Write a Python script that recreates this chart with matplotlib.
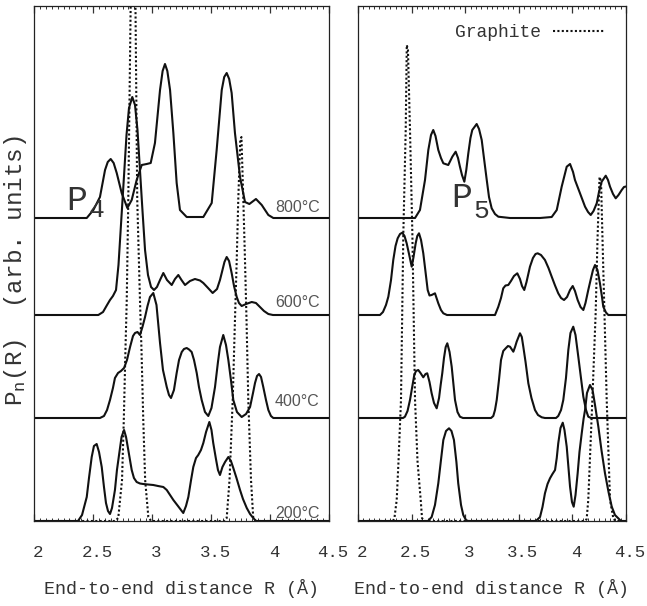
import matplotlib
matplotlib.use("Agg")
import matplotlib.pyplot as plt
from matplotlib.ticker import MultipleLocator, FixedLocator
from matplotlib.transforms import ScaledTranslation
from matplotlib.lines import Line2D
import numpy as np

plt.rcParams['mathtext.fontset'] = 'custom'
plt.rcParams['mathtext.rm'] = 'Liberation Mono'
plt.rcParams['mathtext.it'] = 'Liberation Mono'

# ---------------- data ----------------
temps = ['200°C', '400°C', '600°C', '800°C']
offsets = [0.0, 1.03, 2.06, 3.03]
xticks = [2, 2.5, 3, 3.5, 4, 4.5]
xticklabels = ['2', '2.5', '3', '3.5', '4', '4.5']

# P4 panel
p4_800_R = [2.00, 2.447, 2.503, 2.559, 2.602, 2.625, 2.650, 2.675, 2.701, 2.743, 2.791, 2.828, 2.870, 2.913, 2.955,
            2.989, 3.025, 3.068, 3.090, 3.110, 3.130, 3.153, 3.181, 3.209, 3.237, 3.294, 3.435, 3.506, 3.548, 3.591,
            3.612, 3.633, 3.654, 3.675, 3.703, 3.746, 3.788, 3.825, 3.881, 3.930, 3.986, 4.028, 4.50]
p4_800_h = [0, 0, 0.08, 0.21, 0.48, 0.56, 0.59, 0.55, 0.45, 0.25, 0.10, 0.18, 0.38, 0.53, 0.54,
            0.55, 0.75, 1.28, 1.47, 1.54, 1.47, 1.28, 0.85, 0.35, 0.08, 0.01, 0.01, 0.15, 0.68, 1.28,
            1.41, 1.45, 1.39, 1.25, 0.85, 0.41, 0.16, 0.14, 0.19, 0.13, 0.03, 0, 0]

p4_600_R = [2.0, 2.545, 2.585, 2.619, 2.644, 2.669, 2.695, 2.716, 2.737, 2.758, 2.784, 2.805, 2.833, 2.856, 2.877,
            2.898, 2.919, 2.941, 2.966, 2.992, 3.017, 3.042, 3.068, 3.096, 3.127, 3.167, 3.195, 3.223, 3.250, 3.280,
            3.322, 3.364, 3.407, 3.435, 3.475, 3.514, 3.551, 3.576, 3.593, 3.614, 3.633, 3.653, 3.675, 3.695, 3.718,
            3.737, 3.760, 3.797, 3.845, 3.881, 3.915, 3.949, 3.986, 4.025, 4.5]
p4_600_h = [0, 0, 0.03, 0.10, 0.15, 0.19, 0.25, 0.50, 0.90, 1.30, 1.80, 2.07, 2.18, 2.10, 1.85,
            1.45, 1.05, 0.65, 0.40, 0.28, 0.25, 0.28, 0.35, 0.42, 0.35, 0.30, 0.36, 0.40, 0.35, 0.30,
            0.34, 0.36, 0.345, 0.32, 0.27, 0.22, 0.26, 0.35, 0.43, 0.53, 0.58, 0.54, 0.42, 0.29, 0.18,
            0.12, 0.09, 0.11, 0.13, 0.12, 0.08, 0.04, 0.01, 0, 0]

p4_400_R = [2.0, 2.559, 2.593, 2.619, 2.644, 2.669, 2.686, 2.712, 2.737, 2.763, 2.788, 2.814, 2.839, 2.856, 2.877,
            2.898, 2.919, 2.941, 2.962, 2.983, 3.011, 3.038, 3.068, 3.093, 3.125, 3.144, 3.161, 3.186, 3.209, 3.229,
            3.252, 3.271, 3.294, 3.314, 3.336, 3.356, 3.379, 3.398, 3.421, 3.449, 3.477, 3.504, 3.534, 3.559, 3.576,
            3.604, 3.627, 3.647, 3.669, 3.689, 3.720, 3.760, 3.797, 3.831, 3.856, 3.873, 3.890, 3.907, 3.924, 3.943,
            3.966, 3.986, 4.008, 4.028, 4.5]
p4_400_h = [0, 0, 0.02, 0.08, 0.18, 0.30, 0.40, 0.45, 0.47, 0.50, 0.58, 0.71, 0.82, 0.85, 0.86,
            0.83, 0.91, 1.01, 1.12, 1.21, 1.25, 1.13, 0.75, 0.48, 0.31, 0.23, 0.20, 0.28, 0.45, 0.58,
            0.66, 0.69, 0.70, 0.685, 0.66, 0.58, 0.45, 0.31, 0.18, 0.06, 0.02, 0.10, 0.31, 0.56, 0.71,
            0.83, 0.73, 0.58, 0.38, 0.18, 0.06, 0.01, 0.04, 0.11, 0.25, 0.35, 0.42, 0.44, 0.41, 0.31,
            0.18, 0.08, 0.02, 0, 0]

p4_200_R = [2.0, 2.373, 2.407, 2.447, 2.466, 2.489, 2.508, 2.531, 2.551, 2.574, 2.593, 2.610, 2.627, 2.644, 2.661,
            2.686, 2.703, 2.723, 2.742, 2.763, 2.780, 2.799, 2.828, 2.847, 2.870, 2.898, 2.926, 2.966, 3.011, 3.051,
            3.096, 3.125, 3.153, 3.181, 3.220, 3.265, 3.288, 3.308, 3.331, 3.350, 3.373, 3.392, 3.415, 3.435, 3.458,
            3.486, 3.504, 3.519, 3.542, 3.559, 3.576, 3.597, 3.619, 3.647, 3.669, 3.689, 3.716, 3.746, 3.771, 3.803,
            3.831, 3.858, 3.881, 4.5]
p4_200_h = [0, 0, 0.06, 0.24, 0.43, 0.64, 0.75, 0.77, 0.69, 0.54, 0.34, 0.18, 0.10, 0.07, 0.13,
            0.31, 0.51, 0.68, 0.84, 0.91, 0.84, 0.71, 0.51, 0.43, 0.39, 0.375, 0.37, 0.365, 0.36, 0.35,
            0.34, 0.31, 0.26, 0.21, 0.15, 0.08, 0.15, 0.24, 0.41, 0.54, 0.63, 0.66, 0.71, 0.78, 0.89,
            0.99, 0.91, 0.78, 0.62, 0.51, 0.46, 0.54, 0.59, 0.64, 0.60, 0.53, 0.43, 0.31, 0.22, 0.13,
            0.07, 0.03, 0, 0]

p4_graphite_R = [2.0, 2.686, 2.714, 2.746, 2.761, 2.775, 2.786, 2.799, 2.819, 2.842, 2.860, 2.875, 2.898, 2.911,
                 2.926, 2.942, 2.969, 2.992, 3.610, 3.633, 3.657, 3.684, 3.703, 3.718, 3.731, 3.748, 3.758, 3.774,
                 3.788, 3.801, 3.816, 3.839, 3.858, 3.881, 4.5]
p4_graphite_h = [0, 0, 0.03, 0.41, 1.01, 1.71, 2.21, 3.21, 5.14, 5.71, 5.14, 3.21, 2.21, 1.71,
                 1.01, 0.41, 0.04, 0, 0, 0.03, 0.41, 1.21, 2.01, 2.61, 3.21, 3.81, 3.84, 3.21,
                 2.61, 2.01, 1.21, 0.41, 0.03, 0, 0]

# P5 panel
p5_800_R = [2.0, 2.532, 2.578, 2.625, 2.656, 2.681, 2.702, 2.723, 2.749, 2.774, 2.796, 2.842, 2.880, 2.911, 2.933,
            2.951, 2.970, 2.992, 3.010, 3.029, 3.049, 3.066, 3.107, 3.129, 3.154, 3.175, 3.201, 3.222, 3.247, 3.278,
            3.309, 3.418, 3.698, 3.807, 3.854, 3.900, 3.947, 3.978, 4.006, 4.024, 4.071, 4.118, 4.146, 4.171, 4.197,
            4.227, 4.248, 4.273, 4.311, 4.332, 4.351, 4.379, 4.404, 4.430, 4.460, 4.481, 4.500]
p5_800_h = [0, 0, 0.08, 0.38, 0.68, 0.83, 0.88, 0.82, 0.68, 0.60, 0.547, 0.53, 0.613, 0.663, 0.60,
            0.513, 0.43, 0.363, 0.48, 0.647, 0.80, 0.88, 0.94, 0.89, 0.78, 0.60, 0.38, 0.21, 0.097, 0.04,
            0.013, 0, 0, 0.01, 0.08, 0.313, 0.513, 0.54, 0.46, 0.38, 0.247, 0.113, 0.06, 0.03, 0.07,
            0.147, 0.26, 0.363, 0.423, 0.38, 0.313, 0.24, 0.197, 0.23, 0.28, 0.31, 0.315]

p5_600_R = [2.0, 2.205, 2.233, 2.261, 2.283, 2.308, 2.329, 2.350, 2.370, 2.392, 2.413, 2.434, 2.454, 2.476, 2.501,
            2.518, 2.538, 2.553, 2.569, 2.588, 2.609, 2.630, 2.650, 2.667, 2.687, 2.718, 2.749, 2.774, 2.796, 2.830,
            3.278, 3.309, 3.334, 3.355, 3.376, 3.402, 3.427, 3.455, 3.486, 3.511, 3.530, 3.551, 3.572, 3.604, 3.632,
            3.656, 3.676, 3.707, 3.744, 3.777, 3.807, 3.838, 3.868, 3.894, 3.922, 3.950, 3.978, 4.003, 4.024, 4.049,
            4.076, 4.102, 4.122, 4.148, 4.174, 4.192, 4.211, 4.234, 4.257, 4.276, 4.288, 4.313, 4.335, 4.5]
p5_600_h = [0, 0, 0.03, 0.10, 0.183, 0.35, 0.55, 0.69, 0.767, 0.81, 0.823, 0.79, 0.717, 0.61, 0.483,
            0.58, 0.717, 0.79, 0.817, 0.75, 0.617, 0.43, 0.25, 0.195, 0.20, 0.217, 0.117, 0.05, 0.017, 0,
            0, 0.083, 0.17, 0.267, 0.295, 0.30, 0.34, 0.39, 0.417, 0.36, 0.29, 0.25, 0.33, 0.483, 0.57,
            0.61, 0.617, 0.60, 0.55, 0.47, 0.383, 0.295, 0.217, 0.17, 0.15, 0.18, 0.25, 0.29, 0.24, 0.15,
            0.08, 0.05, 0.12, 0.25, 0.37, 0.45, 0.50, 0.45, 0.317, 0.18, 0.083, 0.025, 0, 0]

p5_400_R = [2.0, 2.420, 2.438, 2.462, 2.485, 2.504, 2.525, 2.541, 2.562, 2.583, 2.609, 2.630, 2.646, 2.667, 2.687,
            2.709, 2.734, 2.756, 2.771, 2.786, 2.802, 2.818, 2.833, 2.854, 2.874, 2.891, 2.905, 2.928, 2.951, 2.979,
            3.241, 3.262, 3.278, 3.294, 3.315, 3.334, 3.355, 3.378, 3.399, 3.418, 3.449, 3.465, 3.480, 3.511, 3.528,
            3.542, 3.563, 3.589, 3.618, 3.651, 3.679, 3.714, 3.744, 3.847, 3.868, 3.894, 3.915, 3.940, 3.962, 3.982,
            4.008, 4.029, 4.055, 4.080, 4.102, 4.127, 4.148, 4.174, 4.5]
p5_400_h = [0, 0, 0.013, 0.07, 0.18, 0.30, 0.43, 0.47, 0.48, 0.45, 0.407, 0.44, 0.447, 0.36, 0.247,
            0.15, 0.097, 0.20, 0.33, 0.447, 0.60, 0.71, 0.747, 0.66, 0.513, 0.33, 0.18, 0.06, 0.013, 0,
            0, 0.02, 0.08, 0.18, 0.38, 0.58, 0.67, 0.697, 0.72, 0.713, 0.663, 0.71, 0.763, 0.847, 0.81,
            0.713, 0.56, 0.347, 0.20, 0.08, 0.03, 0.007, 0, 0, 0.02, 0.08, 0.18, 0.40, 0.68, 0.85,
            0.913, 0.83, 0.613, 0.40, 0.213, 0.08, 0.013, 0, 0]

p5_200_R = [2.0, 2.653, 2.687, 2.718, 2.749, 2.774, 2.796, 2.821, 2.849, 2.872, 2.895, 2.918, 2.935, 2.961, 2.982,
            3.007, 3.026, 3.660, 3.698, 3.721, 3.744, 3.768, 3.791, 3.814, 3.838, 3.854, 3.868, 3.889, 3.910, 3.926,
            3.947, 3.962, 3.978, 3.996, 4.012, 4.029, 4.049, 4.066, 4.087, 4.104, 4.118, 4.136, 4.164, 4.188, 4.211,
            4.242, 4.271, 4.304, 4.337, 4.367, 4.397, 4.428, 4.453, 4.5]
p5_200_h = [0, 0, 0.04, 0.16, 0.377, 0.61, 0.81, 0.90, 0.927, 0.90, 0.81, 0.59, 0.377, 0.16, 0.06,
            0.01, 0, 0, 0.04, 0.14, 0.277, 0.37, 0.427, 0.47, 0.51, 0.63, 0.777, 0.93, 0.983, 0.91,
            0.743, 0.55, 0.343, 0.19, 0.143, 0.26, 0.477, 0.69, 0.877, 1.02, 1.11, 1.28, 1.36, 1.31, 1.16,
            0.943, 0.71, 0.477, 0.29, 0.143, 0.06, 0.027, 0, 0]

p5_graphite_R = [2.0, 2.326, 2.340, 2.361, 2.378, 2.401, 2.423, 2.445, 2.455, 2.466, 2.485, 2.507, 2.532, 2.555,
                 2.585, 2.597, 2.616, 4.118, 4.133, 4.148, 4.186, 4.217, 4.234, 4.253, 4.267, 4.281, 4.299, 4.320,
                 4.351, 4.383, 4.407, 4.5]
p5_graphite_h = [0, 0, 0.03, 0.21, 0.60, 1.21, 2.88, 3.91, 4.76, 4.71, 3.91, 2.88, 1.21, 0.60,
                 0.21, 0.03, 0, 0, 0.02, 0.21, 1.21, 2.08, 2.81, 3.44, 3.40, 2.81, 2.08, 1.21,
                 0.21, 0.02, 0, 0]

# ---------------- figure ----------------
W, H = 647, 606
fig = plt.figure(figsize=(W / 100, H / 100), dpi=100)
ax1 = fig.add_axes([34 / W, 1 - 521 / H, 295 / W, 515 / H])
ax2 = fig.add_axes([358 / W, 1 - 521 / H, 268 / W, 515 / H])

mono = 'Liberation Mono'
txtcol = '#333333'
lc = '#111111'
dot = (0, (1, 1.1))

series4 = [(p4_200_R, p4_200_h), (p4_400_R, p4_400_h), (p4_600_R, p4_600_h), (p4_800_R, p4_800_h)]
series5 = [(p5_200_R, p5_200_h), (p5_400_R, p5_400_h), (p5_600_R, p5_600_h), (p5_800_R, p5_800_h)]

for ax, series, (gR, gh) in [(ax1, series4, (p4_graphite_R, p4_graphite_h)),
                             (ax2, series5, (p5_graphite_R, p5_graphite_h))]:
    ax.plot(gR, gh, color=lc, lw=1.5, linestyle=dot)
    for (R, h), off in zip(series, offsets):
        ax.plot(R, np.asarray(h) + off, color=lc, lw=1.5, solid_capstyle='round', solid_joinstyle='round')
    ax.set_xlim(2, 4.5)
    ax.set_ylim(0, 5.15)
    ax.set_yticks([])
    ax.xaxis.set_major_locator(FixedLocator(xticks))
    ax.set_xticklabels(xticklabels, fontfamily=mono, fontsize=12.5, color=txtcol)
    ax.xaxis.set_minor_locator(MultipleLocator(0.05))
    ax.tick_params(axis='x', which='both', direction='in', top=True, bottom=True, pad=17, colors='#333333')
    ax.tick_params(axis='x', which='major', length=5, width=0.9, labelcolor=txtcol)
    ax.tick_params(axis='x', which='minor', length=2.5, width=0.7)
    for s in ax.spines.values():
        s.set_linewidth(0.9)
        s.set_color('#222222')
    ax.set_xlabel('End-to-end distance R (Å)', fontfamily=mono, fontsize=13.2, color=txtcol, labelpad=14)
    off_tr = ScaledTranslation(4 / 100, 0, fig.dpi_scale_trans)
    for lab in ax.get_xticklabels():
        lab.set_transform(lab.get_transform() + off_tr)

# temperature labels (left panel)
label_dy = [0.005, 0.09, 0.05, 0.03]
for t, off, dy in zip(temps, offsets, label_dy):
    ax1.text(4.042, off + dy, t, fontsize=11.5, color='#555555',
             family=['Liberation Sans', 'DejaVu Sans'], ha='left', va='bottom')

# P4 / P5 labels
ax1.text(2.277, 3.11, 'P', fontfamily=mono, fontsize=25, color=txtcol, ha='left', va='baseline')
ax1.text(2.462, 3.04, '4', fontfamily=mono, fontsize=19, color=txtcol, ha='left', va='baseline')
ax2.text(2.874, 3.143, 'P', fontfamily=mono, fontsize=25, color=txtcol, ha='left', va='baseline')
ax2.text(3.075, 3.03, '5', fontfamily=mono, fontsize=19, color=txtcol, ha='left', va='baseline')

# legend
h_g = Line2D([], [], color=lc, lw=1.5, linestyle=dot)
leg = ax2.legend([h_g], ['Graphite'], loc='center right', bbox_to_anchor=(0.918, 0.948),
                 frameon=False, markerfirst=False, handlelength=2.8, handletextpad=0.7,
                 borderpad=0, borderaxespad=0, prop={'family': mono, 'size': 13})
for t in leg.get_texts():
    t.set_color(txtcol)

# y label
fig.text(16 / W, 1 - 271 / H, r'$\mathrm{P}_\mathrm{n}$(R)  (arb. units)', rotation=90,
         fontfamily=mono, fontsize=17.5, color=txtcol, ha='center', va='center')

fig.savefig('out.png', dpi=100)
